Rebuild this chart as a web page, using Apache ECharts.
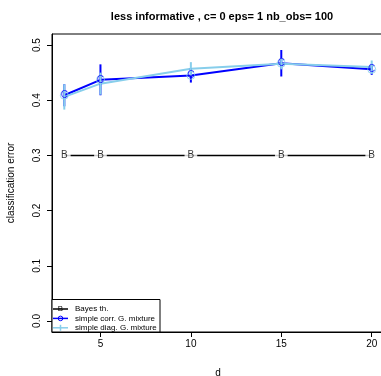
<!DOCTYPE html>
<html><head><meta charset="utf-8">
<script src="https://cdn.jsdelivr.net/npm/echarts@6/dist/echarts.min.js"></script>
<style>html,body{margin:0;padding:0;background:#fff}#c{width:381px;height:376px}</style>
</head><body><div id="c"></div>
<script>
const dims = [3, 5, 10, 15, 20];
const bayes = [0.30, 0.30, 0.30, 0.30, 0.30];
const corr = [0.409, 0.437, 0.445, 0.467, 0.456];
const corrErr = [0.020, 0.028, 0.013, 0.024, 0.010];
const diag = [0.406, 0.430, 0.457, 0.466, 0.460];
const diagErr = [0.023, 0.020, 0.012, 0.010, 0.012];
const xTicks = [5, 10, 15, 20];
const yTicks = [0.0, 0.1, 0.2, 0.3, 0.4, 0.5];
const titleText = 'less informative , c= 0 eps= 1 nb_obs= 100';
const legendNames = ['Bayes th.', 'simple corr. G. mixture', 'simple diag. G. mixture'];

const FONT = 'Liberation Sans, Arial, sans-serif';
const BLUE = '#0000FF', LBLUE = '#87CEEB';

function pairs(v) { return dims.map((d, i) => [d, v[i]]); }
function errData(v, e) { return dims.map((d, i) => [d, v[i] - e[i], v[i] + e[i]]); }
function errSeries(v, e, color) {
  return {
    type: 'custom', data: errData(v, e), z: 3,
    renderItem: (params, api) => {
      const a = api.coord([api.value(0), api.value(1)]);
      const b = api.coord([api.value(0), api.value(2)]);
      return { type: 'line', shape: { x1: a[0], y1: a[1], x2: b[0], y2: b[1] }, style: { stroke: color, lineWidth: 2 } };
    }
  };
}

const chart = echarts.init(document.getElementById('c'), null, { renderer: 'canvas' });
const legendTop = 302, legendStep = 9.4;
const graphics = [
  { type: 'rect', shape: { x: 52, y: 299.5, width: 108, height: 32.5 }, style: { fill: '#fff', stroke: '#000', lineWidth: 1 }, z: 10 }
];
const legColors = ['#000', BLUE, LBLUE];
legendNames.forEach((n, i) => {
  const y = legendTop + 7 + i * legendStep;
  graphics.push({ type: 'line', shape: { x1: 53, y1: y, x2: 68, y2: y }, style: { stroke: legColors[i], lineWidth: 1.5 }, z: 11 });
  graphics.push({ type: 'text', style: { text: n, x: 75, y: y, fill: '#000', font: '8px ' + FONT, textVerticalAlign: 'middle' }, z: 11 });
});
graphics.push({ type: 'text', style: { text: 'B', x: 60.5, y: legendTop + 7, fill: '#000', font: '8px ' + FONT, textAlign: 'center', textVerticalAlign: 'middle' }, z: 12 });
graphics.push({ type: 'circle', shape: { cx: 60.5, cy: legendTop + 7 + legendStep, r: 2.3 }, style: { fill: 'none', stroke: BLUE, lineWidth: 1 }, z: 12 });
graphics.push({ type: 'line', shape: { x1: 60.5, y1: legendTop + 7 + 2 * legendStep - 3, x2: 60.5, y2: legendTop + 7 + 2 * legendStep + 3 }, style: { stroke: LBLUE, lineWidth: 1.5 }, z: 12 });

chart.setOption({
  animation: false,
  backgroundColor: '#fff',
  title: { text: titleText, left: 217, top: 6, textAlign: 'center',
    textStyle: { fontFamily: FONT, fontSize: 11, fontWeight: 'bold', color: '#000' } },
  grid: { left: 52, top: 34, right: -3, bottom: 44, outerBoundsMode: 'none', containLabel: false,
    show: true, borderColor: '#000', borderWidth: 1, backgroundColor: 'transparent' },
  xAxis: {
    type: 'value', min: 2.32, max: 20.68, position: 'bottom',
    name: 'd', nameLocation: 'middle', nameGap: 36,
    nameTextStyle: { fontFamily: FONT, fontSize: 10, color: '#000' },
    axisLine: { show: true, onZero: false, lineStyle: { color: '#000', width: 1 } },
    axisTick: { show: true, inside: false, length: 5, lineStyle: { color: '#000' }, customValues: xTicks },
    axisLabel: { fontFamily: FONT, fontSize: 10, color: '#000', margin: 7, customValues: xTicks, formatter: v => String(v) },
    splitLine: { show: false }
  },
  yAxis: {
    type: 'value', min: -0.02, max: 0.52, position: 'left',
    name: 'classification error', nameLocation: 'middle', nameGap: 36, nameRotate: 90,
    nameTextStyle: { fontFamily: FONT, fontSize: 10, color: '#000' },
    axisLine: { show: true, onZero: false, lineStyle: { color: '#000', width: 1 } },
    axisTick: { show: true, inside: false, length: 5, lineStyle: { color: '#000' }, customValues: yTicks },
    axisLabel: { fontFamily: FONT, fontSize: 10, color: '#000', rotate: 90, margin: 10, customValues: yTicks, formatter: v => v.toFixed(1) },
    splitLine: { show: false }
  },
  graphic: graphics,
  series: [
    { type: 'line', data: pairs(bayes), symbol: 'none', lineStyle: { color: '#000', width: 1.5 }, z: 2 },
    { type: 'scatter', data: pairs(bayes), symbol: 'rect', symbolSize: 1, itemStyle: { color: 'transparent' }, z: 4,
      label: { show: true, position: 'inside', formatter: 'B', fontFamily: FONT, fontSize: 10, color: '#000', backgroundColor: '#fff', padding: [0, 3] } },
    { type: 'line', data: pairs(corr), symbol: 'none', lineStyle: { color: BLUE, width: 2 }, z: 2 },
    errSeries(corr, corrErr, BLUE),
    { type: 'line', data: pairs(diag), symbol: 'none', lineStyle: { color: LBLUE, width: 2 }, z: 2 },
    errSeries(diag, diagErr, LBLUE),
    { type: 'scatter', data: pairs(corr), symbol: 'circle', symbolSize: 8, itemStyle: { color: 'transparent', borderColor: LBLUE, borderWidth: 1 }, z: 5,
      label: { show: true, position: 'inside', formatter: 'C', fontFamily: FONT, fontSize: 10, color: BLUE } }
  ]
});
</script></body></html>
